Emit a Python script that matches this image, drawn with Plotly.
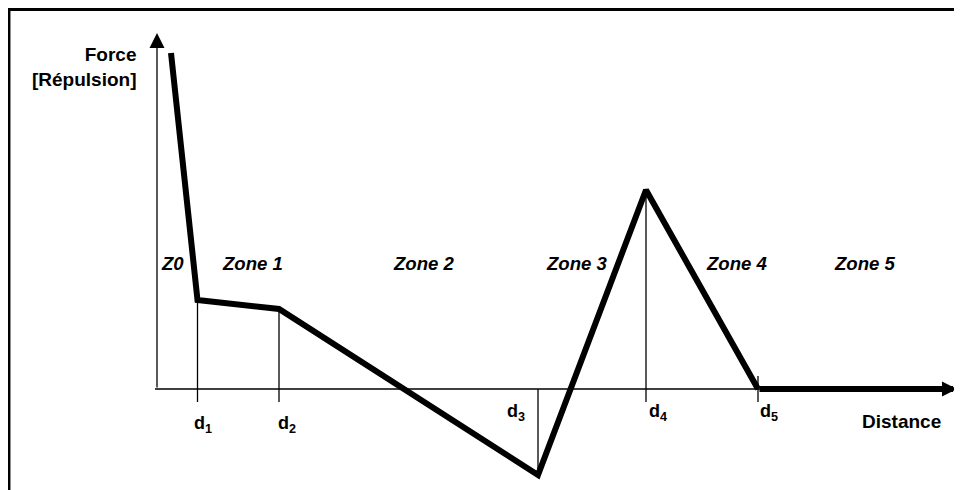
import plotly.graph_objects as go

# force profile, in arbitrary units (origin = axes crossing)
dist = [1.4, 4.05, 12.2, 38.1, 48.9, 60.1]
force = [33.6, 8.9, 8.0, -8.6, 19.9, 0.0]
dist_end = 80.0      # end of the distance axis
force_top = 35.6     # end of the force axis

d_labels = ["d<sub>1</sub>", "d<sub>2</sub>", "d<sub>3</sub>", "d<sub>4</sub>", "d<sub>5</sub>"]
zone_labels = ["Z0", "Zone 1", "Zone 2", "Zone 3", "Zone 4", "Zone 5"]
zone_x = [1.55, 9.5, 26.7, 42.0, 58.0, 70.8]

FONT = "Liberation Sans, Arial, Helvetica, sans-serif"
TICK = 1.3

fig = go.Figure()

# thin drop lines at d1..d5
vx, vy = [], []
for x, y in zip(dist[1:], force[1:]):
    top = y if y != 0 else TICK
    bottom = -TICK if y >= 0 else 0
    vx += [x, x, None]
    vy += [top, bottom, None]
fig.add_trace(go.Scatter(x=vx, y=vy, mode="lines",
                         line=dict(color="black", width=1.3), hoverinfo="skip"))

# x axis thin line
fig.add_trace(go.Scatter(x=[-0.2, dist_end - 2], y=[0, 0], mode="lines",
                         line=dict(color="black", width=1.3), hoverinfo="skip"))

# force curve
fig.add_trace(go.Scatter(x=dist, y=force, mode="lines",
                         line=dict(color="black", width=6), hoverinfo="skip"))

annotations = []
# y axis with arrow
annotations.append(dict(x=0, y=force_top, ax=0, ay=0, xref="x", yref="y",
                        axref="x", ayref="y", text="", showarrow=True,
                        arrowhead=2, arrowwidth=1.3, arrowsize=2.3, arrowcolor="black"))
# thick tail with arrow along the distance axis
annotations.append(dict(x=dist_end, y=0, ax=dist[-1], ay=0, xref="x", yref="y",
                        axref="x", ayref="y", text="", showarrow=True,
                        arrowhead=2, arrowwidth=6, arrowsize=0.5, arrowcolor="black"))

# d labels
d_lab_x = [3.5, 11.9, 34.8, 49.0, 60.1]
d_lab_y = [-3.5, -3.5, -2.3, -2.3, -2.3]
for t, x, y in zip(d_labels, d_lab_x, d_lab_y):
    annotations.append(dict(x=x, y=y, text="<b>" + t + "</b>", showarrow=False,
                            xanchor="left", yanchor="middle",
                            font=dict(family=FONT, size=18, color="black")))

# zone labels
for t, x in zip(zone_labels, zone_x):
    annotations.append(dict(x=x, y=12.55, text="<b><i>" + t + "</i></b>", showarrow=False,
                            xanchor="center", yanchor="middle",
                            font=dict(family=FONT, size=18.6, color="black")))

annotations.append(dict(x=78.6, y=-3.25, text="<b>Distance</b>", showarrow=False,
                        xanchor="right", yanchor="middle",
                        font=dict(family=FONT, size=19, color="black")))
annotations.append(dict(x=-1.85, y=32.2, text="<b>Force<br>[Répulsion]</b>", showarrow=False,
                        xanchor="right", yanchor="middle", align="right",
                        font=dict(family=FONT, size=19, color="black")))

# frame (top and left sides visible)
shapes = [
    dict(type="line", xref="x", yref="y", x0=-14.9, x1=82, y0=37.95, y1=37.95,
         line=dict(color="black", width=3)),
    dict(type="line", xref="x", yref="y", x0=-14.78, x1=-14.78, y0=38.1, y1=-11,
         line=dict(color="black", width=2.5)),
]

fig.update_layout(
    width=962,
    height=490,
    margin=dict(l=0, r=0, t=0, b=0),
    showlegend=False,
    plot_bgcolor="white",
    paper_bgcolor="white",
    # the page body adds 8px, so the plot starts at page pixel (8, 8)
    xaxis=dict(range=[-14.9, 81.3], visible=False, fixedrange=True),
    yaxis=dict(range=[-10.9, 38.1], visible=False, fixedrange=True),
    annotations=annotations,
    shapes=shapes,
    hovermode=False,
)

fig.write_html("out.html")
